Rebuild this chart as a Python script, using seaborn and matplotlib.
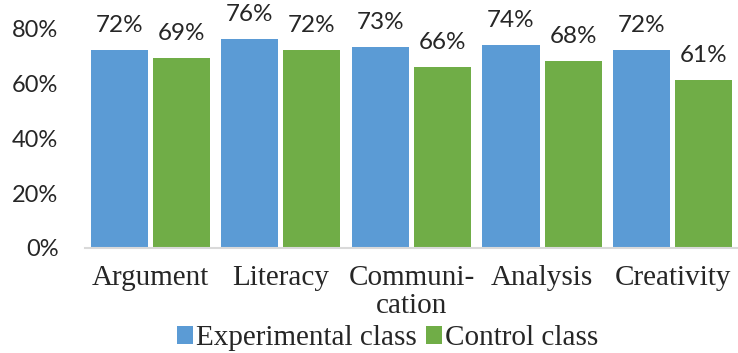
import matplotlib
matplotlib.use("Agg")
import matplotlib.pyplot as plt
import seaborn as sns
import pandas as pd
from matplotlib.patches import Patch

categories = ["Argument", "Literacy", "Communi-\ncation", "Analysis", "Creativity"]
experimental = [0.72, 0.76, 0.73, 0.74, 0.72]
control = [0.69, 0.72, 0.66, 0.68, 0.61]
series_names = ["Experimental class", "Control class"]
colors = ["#5B9BD5", "#70AD47"]
y_ticks = [0.0, 0.2, 0.4, 0.6, 0.8]
y_tick_labels = ["0%", "20%", "40%", "60%", "80%"]

df = pd.DataFrame({
    "category": categories * 2,
    "value": experimental + control,
    "group": [series_names[0]] * len(categories) + [series_names[1]] * len(categories),
})

sns.set_theme(style="white")
num_font = "Lato"
serif_font = "Liberation Serif"

fig = plt.figure(figsize=(7.38, 3.53), dpi=100)
ax = fig.add_axes([0.115, 0.2975, 0.885, 0.623])

sns.barplot(data=df, x="category", y="value", hue="group", hue_order=series_names,
            palette=colors, width=0.95, gap=0.08, saturation=1, ax=ax,
            legend=False, edgecolor="none")

ax.set_xlim(-0.5, 4.5)
ax.set_ylim(0, 0.8)
ax.set_yticks(y_ticks)
ax.set_yticklabels(y_tick_labels, fontfamily=num_font, fontsize=17)
ax.tick_params(axis="y", length=0, pad=19)
ax.tick_params(axis="x", length=0, pad=12)
for lbl in ax.get_xticklabels():
    lbl.set_fontfamily(serif_font)
    lbl.set_fontsize(21)
    lbl.set_linespacing(1.1)
    lbl.set_verticalalignment("top")
ax.set_xlabel("")
ax.set_ylabel("")

for side in ["left", "right", "top"]:
    ax.spines[side].set_visible(False)
ax.spines["bottom"].set_color("#D9D9D9")
ax.spines["bottom"].set_linewidth(1.5)

for cont in ax.containers:
    texts = ax.bar_label(cont, fmt="{:.0%}", padding=10, fontsize=17.5, fontfamily=num_font)
    for t in texts:
        t.set_clip_on(False)

handles = [Patch(facecolor=c, edgecolor="none") for c in colors]
fig.legend(handles, series_names, loc="center", bbox_to_anchor=(0.525, 0.042), ncol=2,
           frameon=False, handlelength=0.55, handleheight=0.55, handletextpad=0.1,
           columnspacing=0.3, borderpad=0, borderaxespad=0,
           prop={"family": serif_font, "size": 21})

fig.savefig("out.png", dpi=100)
